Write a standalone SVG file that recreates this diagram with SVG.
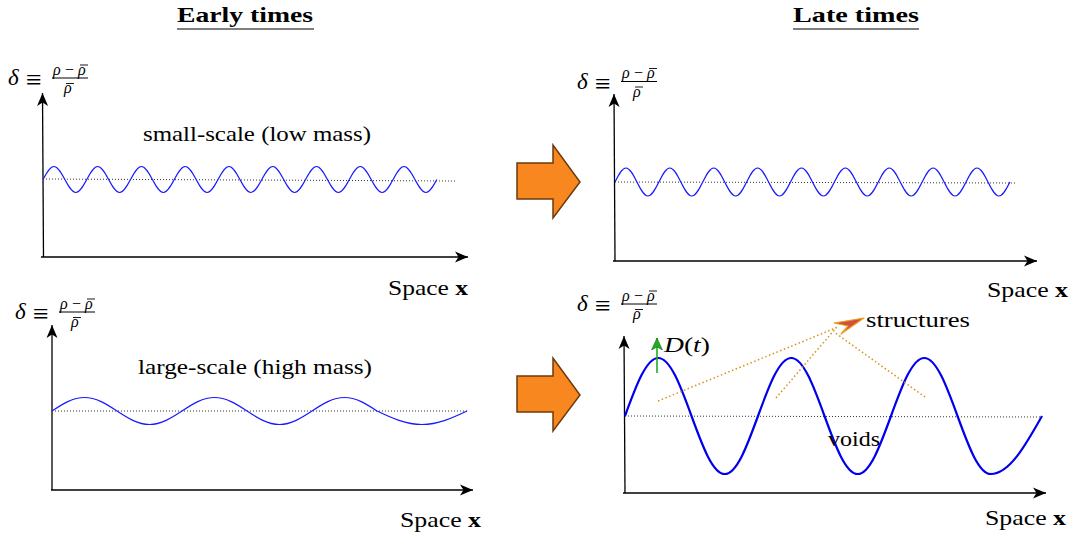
<svg xmlns="http://www.w3.org/2000/svg" width="1076" height="538" viewBox="0 0 1076 538">
<defs>
<style>
.t{font-family:"Liberation Serif","DejaVu Serif",serif;fill:#000}
.m{font-family:"Liberation Serif","DejaVu Serif",serif;font-style:italic;fill:#000}
.eq{font-family:"Liberation Serif","DejaVu Serif",serif;fill:#000;font-size:28px}
.num{font-family:"Liberation Serif","DejaVu Serif",serif;font-style:italic;fill:#000;font-size:16px}
.ax{stroke:#000;stroke-width:1.3;fill:none;marker-end:url(#ah)}
.base{stroke:#333;stroke-width:1;stroke-dasharray:1,2;fill:none}
.wave{stroke:#1a1aff;stroke-width:1.2;fill:none}
.big{stroke:#0000ee;stroke-width:2.2;fill:none}
.bar{stroke:#000;stroke-width:1}
.mac{stroke:#000;stroke-width:0.9}
.oa{fill:#f7871e;stroke:#6e3a0c;stroke-width:1.5}
.od{stroke:#d8901a;stroke-width:1.5;stroke-dasharray:1.5,2.5;fill:none}
</style>
<marker id="ah" markerUnits="userSpaceOnUse" markerWidth="16" markerHeight="14" refX="14" refY="7" orient="auto">
<path d="M14,7 L1,1.5 L4.5,7 L1,12.5 z" fill="#000"/>
</marker>
<marker id="gh" markerUnits="userSpaceOnUse" markerWidth="14" markerHeight="14" refX="12" refY="7" orient="auto">
<path d="M12,7 L0,1.5 L3,7 L0,12.5 z" fill="#22aa22" stroke="#117711" stroke-width="0.6"/>
</marker>
</defs>

<g id="titles">
<text class="t" x="177" y="22" font-size="21" font-weight="bold" textLength="136" lengthAdjust="spacingAndGlyphs">Early times</text>
<line x1="177" y1="29" x2="314" y2="29" stroke="#000" stroke-width="1.2"/>
<text class="t" x="793" y="22" font-size="21" font-weight="bold" textLength="126" lengthAdjust="spacingAndGlyphs">Late times</text>
<line x1="793" y1="29" x2="919" y2="29" stroke="#000" stroke-width="1.2"/>
</g>

<g id="panel-early-small">
<g id="formula-1">
<text class="m" x="8" y="85" font-size="23">δ</text>
<text class="eq" x="26" y="89">≡</text>
<text class="num" x="53" y="74.5">ρ</text>
<text class="num" x="64" y="74.5" font-style="normal">−</text>
<text class="num" x="78" y="74.5">ρ</text>
<line class="mac" x1="80" y1="65" x2="88" y2="65"/>
<line class="bar" x1="52" y1="78" x2="88" y2="78"/>
<text class="num" x="64" y="93">ρ</text>
<line class="mac" x1="66" y1="83.5" x2="74" y2="83.5"/>
</g>
<text class="t" x="143" y="141" font-size="21" textLength="228" lengthAdjust="spacingAndGlyphs">small-scale (low mass)</text>
<path class="ax" d="M43.5,257 L42.5,93"/>
<path class="ax" d="M41,257 L468,257"/>
<path class="base" d="M43,179 L455,181"/>
<path class="wave" d="M43,179.5 c3.57,-6.66 6.98,-13 10.94,-13 c3.96,0 7.37,6.34 10.94,13 c3.57,6.66 6.98,13 10.94,13 c3.96,0 7.37,-6.34 10.94,-13 c3.57,-6.66 6.98,-13 10.94,-13 c3.96,0 7.37,6.34 10.94,13 c3.57,6.66 6.98,13 10.94,13 c3.96,0 7.37,-6.34 10.94,-13 c3.57,-6.66 6.98,-13 10.94,-13 c3.96,0 7.37,6.34 10.94,13 c3.57,6.66 6.98,13 10.94,13 c3.96,0 7.37,-6.34 10.94,-13 c3.57,-6.66 6.98,-13 10.94,-13 c3.96,0 7.37,6.34 10.94,13 c3.57,6.66 6.98,13 10.94,13 c3.96,0 7.37,-6.34 10.94,-13 c3.57,-6.66 6.98,-13 10.94,-13 c3.96,0 7.37,6.34 10.94,13 c3.57,6.66 6.98,13 10.94,13 c3.96,0 7.37,-6.34 10.94,-13 c3.57,-6.66 6.98,-13 10.94,-13 c3.96,0 7.37,6.34 10.94,13 c3.57,6.66 6.98,13 10.94,13 c3.96,0 7.37,-6.34 10.94,-13 c3.57,-6.66 6.98,-13 10.94,-13 c3.96,0 7.37,6.34 10.94,13 c3.57,6.66 6.98,13 10.94,13 c3.96,0 7.37,-6.34 10.94,-13 c3.57,-6.66 6.98,-13 10.94,-13 c3.96,0 7.37,6.34 10.94,13 c3.57,6.66 6.98,13 10.94,13 c3.96,0 7.37,-6.34 10.94,-13 c3.57,-6.66 6.98,-13 10.94,-13 c3.96,0 7.37,6.34 10.94,13 c3.57,6.66 6.98,13 10.94,13 c3.96,0 7.37,-6.34 10.94,-13"/>
<text class="t" x="388" y="295" font-size="21" textLength="80" lengthAdjust="spacingAndGlyphs">Space <tspan font-weight="bold">x</tspan></text>
</g>

<g id="panel-late-small">
<g id="formula-2" transform="translate(569,3.5)">
<text class="m" x="8" y="85" font-size="23">δ</text>
<text class="eq" x="26" y="89">≡</text>
<text class="num" x="53" y="74.5">ρ</text>
<text class="num" x="64" y="74.5" font-style="normal">−</text>
<text class="num" x="78" y="74.5">ρ</text>
<line class="mac" x1="80" y1="65" x2="88" y2="65"/>
<line class="bar" x1="52" y1="78" x2="88" y2="78"/>
<text class="num" x="64" y="93">ρ</text>
<line class="mac" x1="66" y1="83.5" x2="74" y2="83.5"/>
</g>
<path class="ax" d="M615,261 L614,94"/>
<path class="ax" d="M613,261 L1037,261"/>
<path class="base" d="M615,182 L1015,183"/>
<path class="wave" d="M615,182 c3.58,-7.17 7,-14 10.97,-14 c3.97,0 7.39,6.83 10.97,14 c3.58,7.17 7,14 10.97,14 c3.97,0 7.39,-6.83 10.97,-14 c3.58,-7.17 7,-14 10.97,-14 c3.97,0 7.39,6.83 10.97,14 c3.58,7.17 7,14 10.97,14 c3.97,0 7.39,-6.83 10.97,-14 c3.58,-7.17 7,-14 10.97,-14 c3.97,0 7.39,6.83 10.97,14 c3.58,7.17 7,14 10.97,14 c3.97,0 7.39,-6.83 10.97,-14 c3.58,-7.17 7,-14 10.97,-14 c3.97,0 7.39,6.83 10.97,14 c3.58,7.17 7,14 10.97,14 c3.97,0 7.39,-6.83 10.97,-14 c3.58,-7.17 7,-14 10.97,-14 c3.97,0 7.39,6.83 10.97,14 c3.58,7.17 7,14 10.97,14 c3.97,0 7.39,-6.83 10.97,-14 c3.58,-7.17 7,-14 10.97,-14 c3.97,0 7.39,6.83 10.97,14 c3.58,7.17 7,14 10.97,14 c3.97,0 7.39,-6.83 10.97,-14 c3.58,-7.17 7,-14 10.97,-14 c3.97,0 7.39,6.83 10.97,14 c3.58,7.17 7,14 10.97,14 c3.97,0 7.39,-6.83 10.97,-14 c3.58,-7.17 7,-14 10.97,-14 c3.97,0 7.39,6.83 10.97,14 c3.58,7.17 7,14 10.97,14 c3.97,0 7.39,-6.83 10.97,-14 c3.58,-7.17 7,-14 10.97,-14 c3.97,0 7.39,6.83 10.97,14 c3.58,7.17 7,14 10.97,14 c3.97,0 7.39,-6.83 10.97,-14"/>
<text class="t" x="987" y="297" font-size="21" textLength="81" lengthAdjust="spacingAndGlyphs">Space <tspan font-weight="bold">x</tspan></text>
</g>

<g id="panel-early-large">
<g id="formula-3" transform="translate(7,234)">
<text class="m" x="8" y="85" font-size="23">δ</text>
<text class="eq" x="26" y="89">≡</text>
<text class="num" x="53" y="74.5">ρ</text>
<text class="num" x="64" y="74.5" font-style="normal">−</text>
<text class="num" x="78" y="74.5">ρ</text>
<line class="mac" x1="80" y1="65" x2="88" y2="65"/>
<line class="bar" x1="52" y1="78" x2="88" y2="78"/>
<text class="num" x="64" y="93">ρ</text>
<line class="mac" x1="66" y1="83.5" x2="74" y2="83.5"/>
</g>
<text class="t" x="138" y="374" font-size="21" textLength="234" lengthAdjust="spacingAndGlyphs">large-scale (high mass)</text>
<path class="ax" d="M52,490 L52,325"/>
<path class="ax" d="M51,490 L473,490"/>
<path class="base" d="M52,411 L467,411"/>
<path class="wave" d="M52,411 c10.6,-6.92 20.74,-13.5 32.5,-13.5 c11.76,0 21.9,6.58 32.5,13.5 c10.6,6.92 20.74,13.5 32.5,13.5 c11.76,0 21.9,-6.58 32.5,-13.5 c10.6,-6.92 20.74,-13.5 32.5,-13.5 c11.76,0 21.9,6.58 32.5,13.5 c10.6,6.92 20.74,13.5 32.5,13.5 c11.76,0 21.9,-6.58 32.5,-13.5 c10.6,-6.92 20.74,-13.5 32.5,-13.5 c11.76,0 21.9,6.58 32.5,13.5 c14.67,6.92 28.71,13.5 45,13.5 c16.29,0 30.33,-6.58 45,-13.5"/>
<text class="t" x="400" y="527" font-size="21" textLength="81" lengthAdjust="spacingAndGlyphs">Space <tspan font-weight="bold">x</tspan></text>
</g>

<g id="panel-late-large">
<g id="formula-4" transform="translate(569,226)">
<text class="m" x="8" y="85" font-size="23">δ</text>
<text class="eq" x="26" y="89">≡</text>
<text class="num" x="53" y="74.5">ρ</text>
<text class="num" x="64" y="74.5" font-style="normal">−</text>
<text class="num" x="78" y="74.5">ρ</text>
<line class="mac" x1="80" y1="65" x2="88" y2="65"/>
<line class="bar" x1="52" y1="78" x2="88" y2="78"/>
<text class="num" x="64" y="93">ρ</text>
<line class="mac" x1="66" y1="83.5" x2="74" y2="83.5"/>
</g>
<path class="ax" d="M625,493 L624,336"/>
<path class="ax" d="M623,493 L1046,493"/>
<path class="base" d="M625,416 L1041,417"/>
<path class="big" d="M625,416 c10.84,-29.71 21.22,-58 33.25,-58 c12.03,0 22.41,28.29 33.25,58 c10.84,29.71 21.22,58 33.25,58 c12.03,0 22.41,-28.29 33.25,-58 c10.84,-29.71 21.22,-58 33.25,-58 c12.03,0 22.41,28.29 33.25,58 c10.84,29.71 21.22,58 33.25,58 c12.03,0 22.41,-28.29 33.25,-58 c10.84,-29.71 21.22,-58 33.25,-58 c12.03,0 22.41,28.29 33.25,58 c10.84,29.71 21.22,58 33.25,58 c18.55,0 34.54,-28.29 51.25,-58"/>
<path d="M657,373 L657,338" stroke="#22aa22" stroke-width="1.6" marker-end="url(#gh)"/>
<text class="m" x="664" y="352" font-size="22" textLength="46" lengthAdjust="spacingAndGlyphs">D<tspan font-style="normal">(</tspan>t<tspan font-style="normal">)</tspan></text>
<path class="od" d="M658,401 L838,327"/>
<path class="od" d="M776,398 L836,328"/>
<path class="od" d="M925,397 L834,332"/>
<polygon points="834,323 864,318 841,334 848,326" fill="#d4503c" stroke="#e8a020" stroke-width="1.2" stroke-linejoin="round"/>
<text class="t" x="866" y="327" font-size="21" textLength="104" lengthAdjust="spacingAndGlyphs">structures</text>
<text class="t" x="828" y="446" font-size="21" textLength="52" lengthAdjust="spacingAndGlyphs">voids</text>
<text class="t" x="985" y="525" font-size="21" textLength="81" lengthAdjust="spacingAndGlyphs">Space <tspan font-weight="bold">x</tspan></text>
</g>

<g id="connectors">
<polygon class="oa" points="517,163 553,163 553,145 580,182 553,218 553,199 517,199"/>
<polygon class="oa" points="517,376 553,376 553,358 580,395 553,431 553,412 517,412"/>
</g>
</svg>
